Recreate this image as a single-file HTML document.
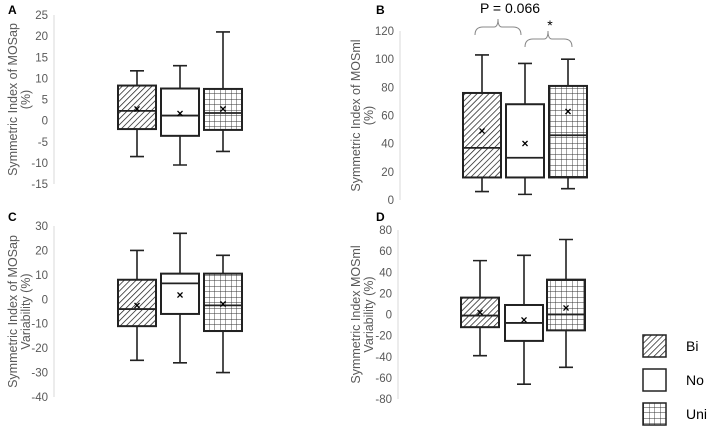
<!DOCTYPE html>
<html><head><meta charset="utf-8"><style>
body{margin:0;background:#fff;width:708px;height:428px;overflow:hidden;font-family:"Liberation Sans",sans-serif}
svg text{font-family:"Liberation Sans",sans-serif}
</style></head><body>
<svg id="s" width="708" height="428" xmlns="http://www.w3.org/2000/svg">
<defs>
<pattern id="hatch" patternUnits="userSpaceOnUse" width="4.2" height="4.2" patternTransform="rotate(45)">
<rect width="4.2" height="4.2" fill="#fff"/><line x1="0" y1="0" x2="0" y2="4.2" stroke="#222" stroke-width="1.5"/></pattern>
<pattern id="grid" patternUnits="userSpaceOnUse" width="5.5" height="5.5">
<rect width="5.5" height="5.5" fill="#fff"/><path d="M0 0H5.5M0 0V5.5" stroke="#333" stroke-width="0.9" fill="none"/></pattern>
</defs>
</svg>
<script>
const groups=["Bi","No","Uni"];
// [whiskerLow, Q1, median, Q3, whiskerHigh, mean]
const panelA=[[-8.5,-2,2.3,8.3,11.8,2.8],[-10.5,-3.6,1.2,7.6,13,1.7],[-7.3,-2.2,1.8,7.5,21,2.8]];
const panelB=[[6,16,37,76,103,49],[4,16,30,68,97,40],[8,16,46,81,100,63]];
const panelC=[[-25,-11,-4,8,20,-2.5],[-26,-6,6.5,10.5,27,1.8],[-30,-13,-2.5,10.5,18,-2]];
const panelD=[[-39,-12,-1,16,51,2],[-66,-25,-8,9,56,-5],[-50,-15,0,33,71,6]];
const ticksA=[25,20,15,10,5,0,-5,-10,-15];
const ticksB=[120,100,80,60,40,20,0];
const ticksC=[30,20,10,0,-10,-20,-30,-40];
const ticksD=[80,60,40,20,0,-20,-40,-60,-80];
const fills=["url(#hatch)","#fff","url(#grid)"];
const NS="http://www.w3.org/2000/svg";
const svg=document.getElementById('s');
function el(t,a,p){const e=document.createElementNS(NS,t);for(const k in a)e.setAttribute(k,a[k]);(p||svg).appendChild(e);return e;}
function panel(id,letter,lx,ly,ax,yTop,yBot,ticks,data,xs,titles,titleX){
 const g=el('g',{});
 
 
 const tmax=ticks[0],tmin=ticks[ticks.length-1];
 const y=v=>yTop+(tmax-v)/(tmax-tmin)*(yBot-yTop);
 const L=el('text',{x:lx,y:ly,'font-size':12,'font-weight':'bold',fill:'#000'},g);
 L.textContent=letter;
 const axis=el('line',{x1:ax,x2:ax,y1:y(tmax),y2:y(tmin),stroke:'#d9d9d9','stroke-width':1},g);
 
 ticks.forEach(t=>{const tx=el('text',{x:ax-6,y:y(t)+4,'font-size':11.5,fill:'#595959','text-anchor':'end'},g);tx.textContent=t;
  });
 titles.forEach((tt,i)=>{const cy=(y(tmax)+y(tmin))/2;const tx=el('text',{x:0,y:0,'font-size':12.5,fill:'#595959','text-anchor':'middle',transform:`translate(${titleX+i*13},${cy}) rotate(-90)`},g);tx.textContent=tt;
  });
 data.forEach((d,i)=>{const cx=xs[i],w=38;const bg=el('g',{},g);
  
  el('path',{d:`M${cx} ${y(d[4])}V${y(d[3])}M${cx} ${y(d[1])}V${y(d[0])}M${cx-7} ${y(d[4])}H${cx+7}M${cx-7} ${y(d[0])}H${cx+7}`,stroke:'#222','stroke-width':1.6,fill:'none'},bg);
  el('rect',{x:cx-w/2,y:y(d[3]),width:w,height:y(d[1])-y(d[3]),fill:fills[i],stroke:'#222','stroke-width':2},bg);
  el('line',{x1:cx-w/2,x2:cx+w/2,y1:y(d[2]),y2:y(d[2]),stroke:'#222','stroke-width':1.8},bg);
  const m=el('text',{x:cx,y:y(d[5])+4,'font-size':12,'font-weight':'bold','text-anchor':'middle',fill:'#000'},bg);m.textContent='×';
  
 });
}
panel('a','A',8,14,54,15,184,ticksA,panelA,[137,180,223],['Symmetric Index of MOSap','(%)'],17);
panel('b','B',376,14,400,31,200,ticksB,panelB,[482,525,568],['Symmetric Index of MOSml','(%)'],360);
panel('c','C',8,221,54,226,397,ticksC,panelC,[137,180,223],['Symmetric Index of MOSap','Variability (%)'],17);
panel('d','D',376,221,398,230,399,ticksD,panelD,[480,524,566],['Symmetric Index MOSml','Variability (%)'],360);
// annotations
const p=el('text',{x:510,y:13,'font-size':14,'text-anchor':'middle',fill:'#000'});p.textContent='P = 0.066';

const b1=el('path',{d:'M475 35Q475 27 483 27H494Q498 27 498 19Q498 27 502 27H513Q521 27 521 35',stroke:'#888','stroke-width':1,fill:'none'});

const b2=el('path',{d:'M525 47Q525 39 533 39H544Q548 39 548 31Q548 39 552 39H564Q572 39 572 47',stroke:'#888','stroke-width':1,fill:'none'});

const st=el('text',{x:550,y:30,'font-size':14,'text-anchor':'middle',fill:'#000'});st.textContent='*';

// legend
const lg=el('g',{});
groups.forEach((gname,i)=>{const yy=335+i*34;const e=el('g',{},lg);
 
 el('rect',{x:643,y:yy,width:23,height:22,fill:fills[i],stroke:'#222','stroke-width':1.5},e);
 const t=el('text',{x:686,y:yy+16,'font-size':14,fill:'#000'},e);t.textContent=gname;});
</script>
</body></html>
